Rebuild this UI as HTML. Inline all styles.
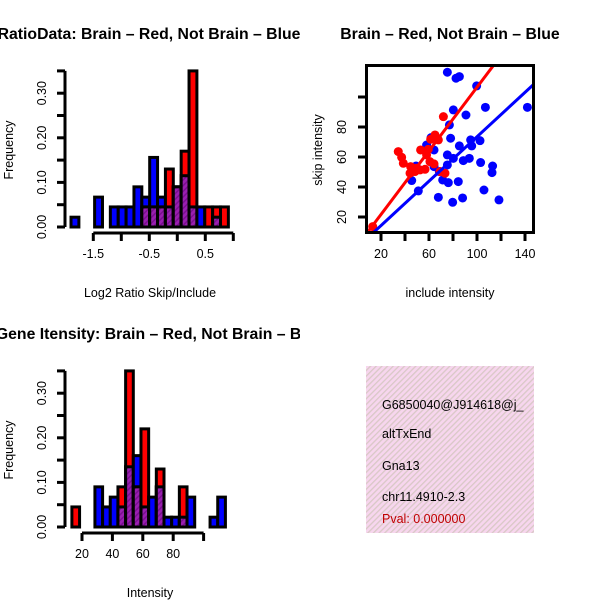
<!DOCTYPE html>
<html><head><meta charset="utf-8"><style>
html,body{margin:0;padding:0;background:#fff;}
svg{display:block;font-family:"Liberation Sans",Arial,sans-serif;}
</style></head>
<body>
<svg id="root" width="600" height="600" viewBox="0 0 600 600">
<defs>
<pattern id="hatch" width="4" height="4" patternUnits="userSpaceOnUse" patternTransform="rotate(45)">
<rect width="4" height="4" fill="#9a1fb0"/><rect width="1.5" height="4" fill="#7a1090"/>
</pattern>
<pattern id="pinkhatch" width="4" height="4" patternUnits="userSpaceOnUse" patternTransform="rotate(45)">
<rect width="4" height="4" fill="#f7d6ee"/><rect width="1.3" height="4" fill="#d9c8c6"/>
</pattern>
</defs>
<svg id="p1" x="0" y="0" width="300" height="300"></svg>
<svg id="p2" x="300" y="0" width="300" height="300"></svg>
<svg id="p3" x="0" y="300" width="300" height="300"></svg>
<svg id="p4" x="300" y="300" width="300" height="300">
<rect x="66" y="66" width="168" height="167" fill="url(#pinkhatch)"/>
<text x="82" y="109" font-size="12.5">G6850040@J914618@j_</text>
<text x="82" y="138" font-size="12.5">altTxEnd</text>
<text x="82" y="170" font-size="12.5">Gna13</text>
<text x="82" y="201" font-size="12.5">chr11.4910-2.3</text>
<text x="82" y="223" font-size="12.5" fill="#c00000">Pval: 0.000000</text>
</svg>
</svg>
<script>
// ---- Ratio histogram data ----
const ratioBinStart = -1.898;
const ratioBinWidth = 0.1405;
const ratioBlue = [0.022,0,0,0.067,0,0.045,0.045,0.045,0.09,0.067,0.156,0.067,0.045,0.09,0.115,0.045,0.045,0,0.022,0];
const ratioRed  = [0,0,0,0,0,0,0,0,0,0.045,0.045,0.045,0.13,0.09,0.17,0.35,0,0.045,0.045,0.045];
const ratioXTicks = [-1.5,-1,-0.5,0,0.5,1];
const ratioXLabels = ["-1.5","","-0.5","","0.5",""];
// ---- Intensity histogram data ----
const intBinStart = 13.35;
const intBinWidth = 5.05;
const intBlue = [0,0,0,0.09,0.045,0.067,0.045,0.135,0.16,0.045,0.067,0.09,0.022,0.022,0.022,0.067,0,0,0.022,0.067];
const intRed  = [0.045,0,0,0,0,0,0.09,0.35,0.09,0.22,0,0.13,0,0,0.09,0,0,0,0,0];
const intXTicks = [20,40,60,80,100];
const intXLabels = ["20","40","60","80",""];
// ---- Frequency axis ----
const freqTicks = [0,0.05,0.1,0.15,0.2,0.25,0.3,0.35];
const freqLabels = ["0.00","","0.10","","0.20","","0.30",""];
// ---- Scatter data ----
const blueX = [75.3,82.5,85.3,99.7,107,142,80.3,90.8,77,61.7,78,58,64.2,85.3,94.7,102.5,95.6,75.3,80.3,88.6,93.6,103,113,112.5,75.3,49.2,64.2,68.6,45.6,71.4,76.1,84.4,51.1,105.8,67.8,88,79.7,118.3];
const blueY = [116.5,112.5,113.6,107.4,93.1,93.1,91.4,88,81.4,72.9,72.5,68,64.7,67.4,71.4,70.9,67.4,61.4,59.1,57.6,59.1,56.3,54,49.6,54.7,54,53.6,50.3,44.3,44.7,42.9,43.6,37.4,38,33.1,32.7,29.8,31.4];
const redX = [13.1,34.4,37.2,38.6,44.7,49.2,52.5,56.7,44.2,53,59.4,58,61.4,67.8,72,65,64.2,69.2,73.3,60.8,48.3];
const redY = [13.6,63.6,59.8,55.8,53.6,52.5,51.4,51.8,49.2,64.7,65.1,61.4,71.8,71.4,86.9,74.7,55.4,50.3,49.2,56.9,50.3];
const redFit = [0.5,1.06];   // intercept, slope
const blueFit = [-0.5,0.74];
const scatXTicks = [20,40,60,80,100,120,140];
const scatXLabels = ["20","","60","","100","","140"];
const scatYTicks = [20,40,60,80,100];
const scatYLabels = ["20","40","60","80",""];

const NS="http://www.w3.org/2000/svg";
function mk(parent,tag,attrs){const e=document.createElementNS(NS,tag);for(const k in attrs)e.setAttribute(k,attrs[k]);parent.appendChild(e);return e;}
function txt(parent,s,attrs){const e=mk(parent,'text',attrs);e.textContent=s;return e;}
const TITLE_FS=15.8, AX_FS=12.5;

function histogram(svg,o){
  const yS=v=>o.y0-v*446;
  const xS=v=>o.x0+(v-o.xv0)*o.xk;
  for(let i=0;i<o.blue.length;i++){
    const a=o.start+i*o.width, b=a+o.width;
    const x1=xS(a), x2=xS(b);
    const bl=o.blue[i], rd=o.red[i], mn=Math.min(bl,rd);
    if(bl>0){const r=mk(svg,'rect',{x:x1,y:yS(bl),width:x2-x1,height:yS(0)-yS(bl),fill:'#0000ff',stroke:'#000','stroke-width':3});
      
      }
    if(rd>0){const r=mk(svg,'rect',{x:x1,y:yS(rd),width:x2-x1,height:yS(0)-yS(rd),fill:'#ff0000',stroke:'#000','stroke-width':3});
      
      }
    if(mn>0){const r=mk(svg,'rect',{x:x1,y:yS(mn),width:x2-x1,height:yS(0)-yS(mn),fill:'url(#hatch)',stroke:'#000','stroke-width':3});
      
      }
  }
  const ya=mk(svg,'g',{});
  
  
  mk(ya,'line',{x1:65,x2:65,y1:yS(0),y2:yS(0.35),stroke:'#000','stroke-width':3});
  freqTicks.forEach((t,i)=>{
    mk(ya,'line',{x1:57,x2:65,y1:yS(t),y2:yS(t),stroke:'#000','stroke-width':3});
    if(freqLabels[i]){const l=txt(ya,freqLabels[i],{x:0,y:0,'font-size':AX_FS,'text-anchor':'middle',transform:`translate(46,${yS(t)}) rotate(-90)`});
      
      }
  });
  const xa=mk(svg,'g',{});
  
  
  const xt=o.xticks;
  mk(xa,'line',{x1:xS(xt[0]),x2:xS(xt[xt.length-1]),y1:o.y0+6,y2:o.y0+6,stroke:'#000','stroke-width':3});
  xt.forEach((t,i)=>{
    mk(xa,'line',{x1:xS(t),x2:xS(t),y1:o.y0+6,y2:o.y0+14,stroke:'#000','stroke-width':3});
    if(o.xlabels[i]){const l=txt(xa,o.xlabels[i],{x:xS(t),y:o.y0+31,'font-size':AX_FS,'text-anchor':'middle'});
      
      }
  });
}

const p1=document.getElementById('p1');
histogram(p1,{y0:227,x0:93.3,xv0:-1.5,xk:56,start:ratioBinStart,width:ratioBinWidth,blue:ratioBlue,red:ratioRed,xticks:ratioXTicks,xlabels:ratioXLabels});
const t1=txt(p1,"RatioData: Brain \u2013 Red, Not Brain \u2013 Blue",{x:149,y:39,'font-size':TITLE_FS,'font-weight':'bold','text-anchor':'middle'});


const xl1=txt(p1,"Log2 Ratio Skip/Include",{x:150,y:297,'font-size':AX_FS,'text-anchor':'middle'});


const yl1=txt(p1,"Frequency",{x:0,y:0,'font-size':AX_FS,'text-anchor':'middle',transform:'translate(13,150) rotate(-90)'});



const p3=document.getElementById('p3');
histogram(p3,{y0:227,x0:82,xv0:20,xk:1.52,start:intBinStart,width:intBinWidth,blue:intBlue,red:intRed,xticks:intXTicks,xlabels:intXLabels});
const t3=txt(p3,"Gene Itensity: Brain \u2013 Red, Not Brain \u2013 Blue",{x:160,y:39,'font-size':TITLE_FS,'font-weight':'bold','text-anchor':'middle'});


const xl3=txt(p3,"Intensity",{x:150,y:297,'font-size':AX_FS,'text-anchor':'middle'});


const yl3=txt(p3,"Frequency",{x:0,y:0,'font-size':AX_FS,'text-anchor':'middle',transform:'translate(13,150) rotate(-90)'});



const p2=document.getElementById('p2');
const sx=v=>81+(v-20)*1.2, sy=v=>217-(v-20)*1.5;
const clip=mk(p2,'clipPath',{id:'plotclip'});
mk(clip,'rect',{x:66,y:65,width:168,height:168});
const pts=mk(p2,'g',{'clip-path':'url(#plotclip)'});


blueX.forEach((v,i)=>{const c=mk(pts,'circle',{cx:sx(v),cy:sy(blueY[i]),r:4.5,fill:'#0000ff'});
  
  });
redX.forEach((v,i)=>{const c=mk(pts,'circle',{cx:sx(v),cy:sy(redY[i]),r:4.5,fill:'#ff0000'});
  
  });
const xmin=0,xmax=160;
const bl=mk(pts,'line',{x1:sx(xmin),y1:sy(blueFit[0]+blueFit[1]*xmin),x2:sx(xmax),y2:sy(blueFit[0]+blueFit[1]*xmax),stroke:'#0000ff','stroke-width':3});


const rl=mk(pts,'line',{x1:sx(xmin),y1:sy(redFit[0]+redFit[1]*xmin),x2:sx(xmax),y2:sy(redFit[0]+redFit[1]*xmax),stroke:'#ff0000','stroke-width':3});


const box=mk(p2,'rect',{x:66.5,y:65.5,width:167,height:167,fill:'none',stroke:'#000','stroke-width':3});


scatXTicks.forEach((t,i)=>{
  mk(p2,'line',{x1:sx(t),x2:sx(t),y1:233,y2:241,stroke:'#000','stroke-width':3});
  if(scatXLabels[i]){const l=txt(p2,scatXLabels[i],{x:sx(t),y:258,'font-size':AX_FS,'text-anchor':'middle'});
    
    }
});
scatYTicks.forEach((t,i)=>{
  mk(p2,'line',{x1:58,x2:66,y1:sy(t),y2:sy(t),stroke:'#000','stroke-width':3});
  if(scatYLabels[i]){const l=txt(p2,scatYLabels[i],{x:0,y:0,'font-size':AX_FS,'text-anchor':'middle',transform:`translate(46,${sy(t)}) rotate(-90)`});
    
    }
});
const t2=txt(p2,"Brain \u2013 Red, Not Brain \u2013 Blue",{x:150,y:39,'font-size':TITLE_FS,'font-weight':'bold','text-anchor':'middle'});


const xl2=txt(p2,"include intensity",{x:150,y:297,'font-size':AX_FS,'text-anchor':'middle'});


const yl2=txt(p2,"skip intensity",{x:0,y:0,'font-size':AX_FS,'text-anchor':'middle',transform:'translate(22,150) rotate(-90)'});


</script>
</body></html>
